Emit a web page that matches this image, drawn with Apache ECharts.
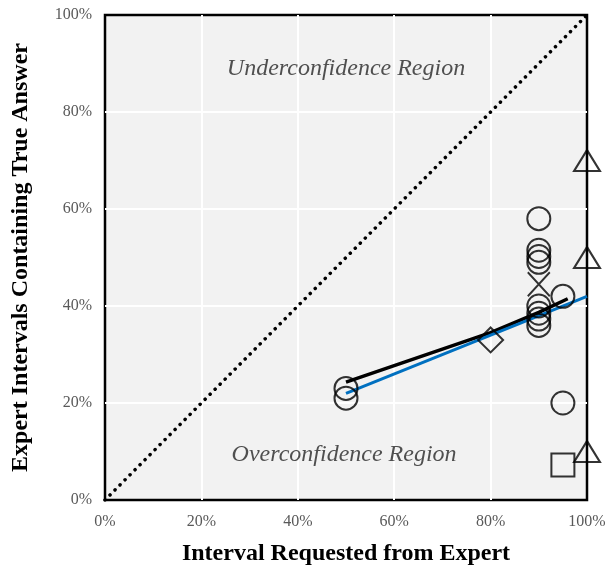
<!DOCTYPE html>
<html>
<head>
<meta charset="utf-8">
<script src="https://cdn.jsdelivr.net/npm/echarts@6/dist/echarts.min.js"></script>
<style>html,body{margin:0;padding:0;background:#fff}#c{width:609px;height:573px}</style>
</head>
<body>
<div id="c"></div>
<script>
// Data (percent values)
const xTicks = [0, 20, 40, 60, 80, 100];
const yTicks = [0, 20, 40, 60, 80, 100];
const circles = [[50,23],[50,21],[90,58],[90,51.5],[90,50.2],[90,49],[90,40],[90,38.5],[90,37.3],[90,36],[95,42],[95,20]];
const crosses = [[90,44.5]];
const diamonds = [[80,33]];
const squares = [[95,7.2]];
const triangles = [[100,70],[100,50],[100,10]];
const blackLine = [[50,24.3],[80,34.5],[90,38.7],[96,41.5]];
const blueLine = [[50,22],[100,42]];
const diagonal = [[0,0],[100,100]];
const regionLabels = [[50,89,'Underconfidence Region'],[49.6,9.3,'Overconfidence Region']];

const serif = '"Liberation Serif","Times New Roman",serif';
const chart = echarts.init(document.getElementById('c'), null, {renderer:'canvas'});
const hollow = {color:'rgba(0,0,0,0)', borderColor:'#000', borderWidth:2};
const split = {lineStyle:{color:'#fff',width:2},showMinLine:false,showMaxLine:false};
chart.setOption({
  animation:false,
  grid:{left:105,right:22,top:15,bottom:73,show:true,containLabel:false,outerBoundsMode:'none',
    backgroundColor:'#f2f2f2',borderColor:'#000',borderWidth:2.5},
  xAxis:{type:'value',min:0,max:100,interval:20,
    name:'Interval Requested from Expert',nameLocation:'middle',nameGap:42,
    nameTextStyle:{fontFamily:serif,fontWeight:'bold',fontSize:24,color:'#000'},
    axisLine:{show:false},axisTick:{show:false},
    axisLabel:{formatter:'{value}%',fontFamily:serif,fontSize:16,color:'#595959',margin:14},
    splitLine:split},
  yAxis:{type:'value',min:0,max:100,interval:20,
    name:'Expert Intervals Containing True Answer',nameLocation:'middle',nameGap:72,
    nameTextStyle:{fontFamily:serif,fontWeight:'bold',fontSize:24,color:'#000'},
    axisLine:{show:false},axisTick:{show:false},
    axisLabel:{formatter:'{value}%',fontFamily:serif,fontSize:16,color:'#595959',margin:13},
    splitLine:split},
  series:[
    {type:'line',data:diagonal,symbol:'none',lineStyle:{color:'#000',width:3.5,type:[0.1,7],cap:'round'},z:2},
    {type:'line',data:blackLine,symbol:'none',lineStyle:{color:'#000',width:3.5},z:3},
    {type:'line',data:blueLine,symbol:'none',lineStyle:{color:'#0070c0',width:3},z:4},
    {type:'scatter',data:circles,symbol:'circle',symbolSize:23,itemStyle:hollow,clip:false,z:5},
    {type:'scatter',data:crosses,symbol:'path://M0,0L10,10M10,0L0,10',symbolSize:[22,24],itemStyle:hollow,clip:false,z:5},
    {type:'scatter',data:diamonds,symbol:'diamond',symbolSize:25,itemStyle:hollow,clip:false,z:5},
    {type:'scatter',data:squares,symbol:'rect',symbolSize:23,itemStyle:hollow,clip:false,z:5},
    {type:'scatter',data:triangles,symbol:'triangle',symbolSize:[26,21],itemStyle:hollow,clip:false,z:5},
    {type:'scatter',data:regionLabels,symbolSize:0,silent:true,z:6,
      label:{show:true,position:'inside',formatter:p=>p.data[2],fontFamily:serif,fontStyle:'italic',fontSize:24,color:'#262626'}}
  ]
});
</script>
</body>
</html>
